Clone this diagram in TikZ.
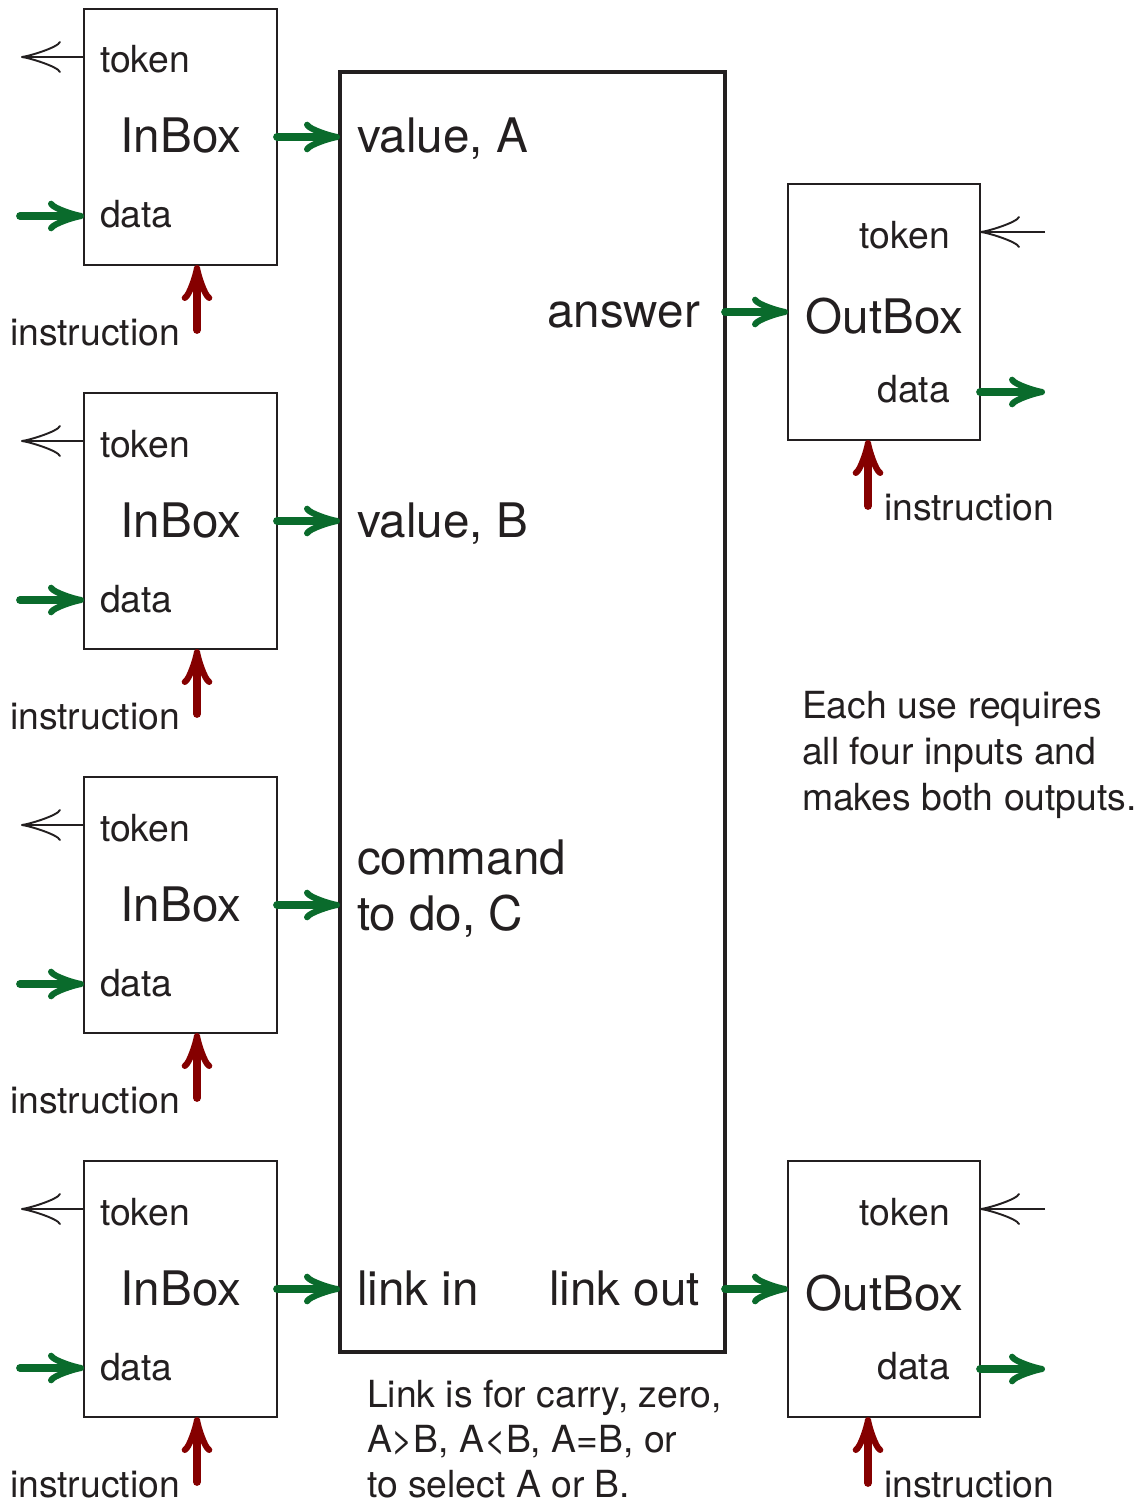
\documentclass[tikz,border=0pt]{standalone}
\usepackage{fontspec}
\setmainfont{TeX Gyre Heros}
\usetikzlibrary{arrows.meta}
\definecolor{ink}{HTML}{231F20}
\definecolor{flowgreen}{HTML}{0A6B2C}
\definecolor{ctrlred}{HTML}{850000}

\begin{document}
\begin{tikzpicture}[x=0.75pt,y=-0.75pt,
  every node/.style={text=ink, inner sep=0pt, outer sep=0pt},
  small/.style={font=\fontsize{28}{34}\selectfont},
  big/.style={font=\fontsize{35.7}{42}\selectfont},
  inbox/.style={draw=ink, line width=1.8pt, minimum width=144.75pt, minimum height=192pt},
  outbox/.style={draw=ink, line width=1.8pt, minimum width=144pt, minimum height=192pt},
  unit/.style={draw=ink, line width=3.4pt, minimum width=288.75pt, minimum height=960pt},
  dataflow/.style={draw=flowgreen, line width=5.8pt, line cap=round,
    -{Classical TikZ Rightarrow[length=27pt,width=23pt,round]}},
  ctrlflow/.style={draw=ctrlred, line width=5.8pt, line cap=round,
    -{Classical TikZ Rightarrow[length=27pt,width=23pt,round]}},
  tokenflow/.style={draw=ink, line width=1.8pt,
    -{Classical TikZ Rightarrow[length=30pt,width=24pt,round]}},
]
\useasboundingbox (0,0) rectangle (1144,1505);

% central processing unit
\node[unit] (alu) at (532.5,712) {};
\node[big, anchor=base west] (va) at (357,153) {value, A};
\node[big, anchor=base west] (vb) at (357,537) {value, B};
\node[big, anchor=base west] (vc1) at (357,874) {command};
\node[big, anchor=base west] (vc2) at (357,930) {to do, C};
\node[big, anchor=base west] (lin) at (357,1305) {link in};
\node[big, anchor=base east] (lout) at (700,1305) {link out};
\node[big, anchor=base east] (ans) at (700,327) {answer};

% four input boxes
\foreach \k in {0,1,2,3} {
  \pgfmathsetmacro\top{9+384*\k}
  \node[inbox] (in\k) at (180.5,{\top+128}) {};
  \node[big, anchor=base] (in\k name) at (181,{\top+144}) {InBox};
  \node[small, anchor=base west] (in\k tokl) at (100,{\top+64}) {token};
  \node[small, anchor=base west] (in\k datl) at (100,{\top+219}) {data};
  \node[small, anchor=base west] (in\k insl) at (10,{\top+336}) {instruction};
  \coordinate (in\k tok) at (21,{\top+48});
  \coordinate (in\k src) at (20,{\top+207});
  \coordinate (in\k ctl) at (197,{\top+321});
  \draw[tokenflow] (in\k.west |- in\k tok) -- (in\k tok);
  \draw[dataflow] (in\k src) -- (in\k src -| in\k.west);
  \draw[ctrlflow] (in\k ctl) -- (in\k ctl |- in\k.south);
  \draw[dataflow] (in\k.east) -- (in\k.east -| alu.west);
}

% two output boxes
\foreach \k/\top in {0/184, 1/1161} {
  \node[outbox] (out\k) at (884,{\top+128}) {};
  \node[big, anchor=base] (out\k name) at (884.5,{\top+149}) {OutBox};
  \node[small, anchor=base east] (out\k tokl) at (950,{\top+64}) {token};
  \node[small, anchor=base east] (out\k datl) at (950,{\top+218}) {data};
  \node[small, anchor=base west] (out\k insl) at (884,{\top+336}) {instruction};
  \coordinate (out\k tok) at (1045,{\top+48});
  \coordinate (out\k dst) at (1045,{\top+208});
  \coordinate (out\k ctl) at (868,{\top+322});
  \draw[tokenflow] (out\k tok) -- (out\k tok -| out\k.east);
  \draw[dataflow] (out\k dst -| out\k.east) -- (out\k dst);
  \draw[ctrlflow] (out\k ctl) -- (out\k ctl |- out\k.south);
  \draw[dataflow] (alu.east |- out\k.west) -- (out\k.west);
}

% notes
\node[small, anchor=base west] (usea) at (802,718) {Each use requires};
\node[small, anchor=base west] (useb) at (802,764) {all four inputs and};
\node[small, anchor=base west] (usec) at (802,810) {makes both outputs.};
\node[small, anchor=base west] (linka) at (367,1407) {Link is for carry, zero,};
\node[small, anchor=base west] (linkb) at (367,1452) {A>B, A<B, A=B, or};
\node[small, anchor=base west] (linkc) at (367,1497) {to select A or B.};
\end{tikzpicture}
\end{document}
